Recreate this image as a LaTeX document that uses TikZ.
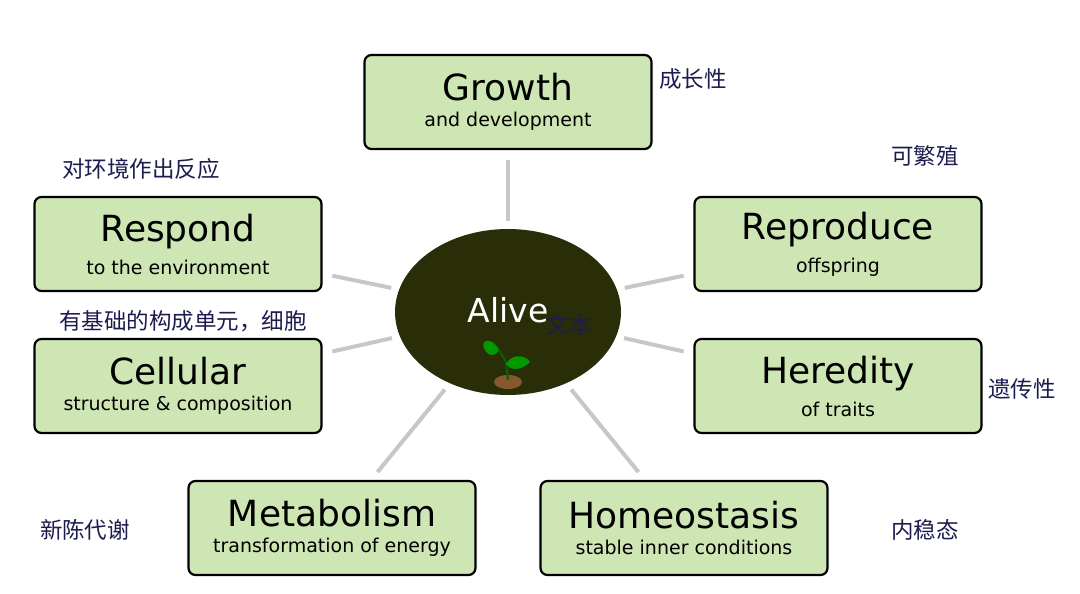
\documentclass[tikz,border=0pt]{standalone}
\usepackage{fontspec}
\setmainfont{DejaVu Sans}
\newfontfamily\cjk{Noto Sans CJK SC}
\usetikzlibrary{shapes.geometric}
\definecolor{boxgreen}{HTML}{CDE6B3}
\definecolor{soil}{HTML}{2A2E08}
\definecolor{ink}{HTML}{1C1C4E}
\begin{document}
\begin{tikzpicture}[x=1pt,y=-1pt,
    trait/.style={draw=black,line width=2.2pt,rounded corners=7pt,fill=boxgreen,
      minimum width=287pt,minimum height=94pt,align=center},
    spoke/.style={draw=black!22,line width=4pt,shorten <=8pt,shorten >=10pt},
    note/.style={text=ink,font=\cjk\fontsize{22.5}{22.5}\selectfont}]
  \useasboundingbox (0,0) rectangle (1080,594);
  % helper for the two-line box text
  \newcommand{\trait}[2]{\fontsize{36}{40}\selectfont #1\\[10pt]{\fontsize{19}{22}\selectfont #2}}
  \node[ellipse,fill=soil,minimum width=226pt,minimum height=166pt] (alive) at (508,312) {};
  \node[text=white,font=\fontsize{33}{33}\selectfont] (alivetext) at (508,310) {Alive};
  % sprout
  \fill[brown!70!black] (508,382) ellipse[x radius=14pt,y radius=7pt];
  \draw[green!40!black,line width=2pt] (508,380) -- (506,362) -- (499,350);
  \fill[green!60!black] (499,350) .. controls (492,336) and (480,340) .. (484,348) .. controls (488,358) and (497,356) .. (499,350);
  \fill[green!60!black] (506,364) .. controls (513,352) and (527,356) .. (530,362) .. controls (520,372) and (510,370) .. (506,364);
  \node[trait] (growth) at (508,102) {\trait{Growth}{and development}};
  \node[trait] (respond) at (178,244) {\trait{Respond}{to the environment}};
  \node[trait] (reproduce) at (838,244) {\trait{Reproduce}{offspring}};
  \node[trait] (cellular) at (178,386) {\trait{Cellular}{structure \& composition}};
  \node[trait] (heredity) at (838,386) {\trait{Heredity}{of traits}};
  \node[trait] (metabolism) at (332,528) {\trait{Metabolism}{transformation of energy}};
  \node[trait] (homeostasis) at (684,528) {\trait{Homeostasis}{stable inner conditions}};
  \foreach \t in {growth,respond,reproduce,cellular,heredity,metabolism,homeostasis}
    \draw[spoke] (alive) -- (\t);
  \node[note] (ngrowth) at (693,79) {成长性};
  \node[note] (nrespond) at (141,169) {对环境作出反应};
  \node[note] (nreproduce) at (925,156) {可繁殖};
  \node[note] (ncellular) at (183,321) {有基础的构成单元，细胞};
  \node[note] (nheredity) at (1022,389) {遗传性};
  \node[note] (nmetabolism) at (85,530) {新陈代谢};
  \node[note] (nhomeostasis) at (925,530) {内稳态};
  \node[note] (nalive) at (569,325) {文本};
\end{tikzpicture}
\end{document}
